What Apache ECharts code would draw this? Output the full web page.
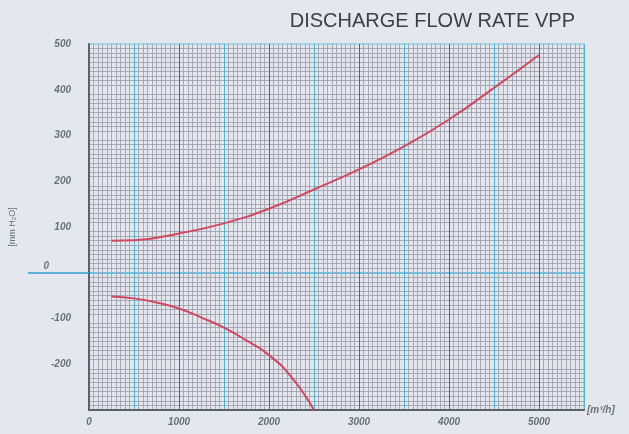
<!DOCTYPE html>
<html>
<head>
<meta charset="utf-8">
<script src="https://cdn.jsdelivr.net/npm/echarts@6/dist/echarts.min.js"></script>
<style>
  html, body { margin: 0; padding: 0; background: #e4e8ee; }
  #chart { width: 629px; height: 434px; }
</style>
</head>
<body>
<div id="chart"></div>
<script>
// flow rate [m3/h] and pressure of the two curves
var upperFlow = [250, 500, 1000, 1500, 2000, 2500, 3000, 3500, 4000, 4500, 5000];
var upperPressure = [70, 71, 86, 108, 140, 182, 226, 276, 335, 404, 476];
var lowerFlow = [250, 500, 750, 1000, 1250, 1500, 1750, 2000, 2250, 2500];
var lowerPressure = [-52, -56, -65, -78, -98, -120, -148, -180, -228, -300];
var xTicks = [0, 1000, 2000, 3000, 4000, 5000];

function pairs(xs, ys) {
  return xs.map(function (x, i) { return [x, ys[i]]; });
}

var chart = echarts.init(document.getElementById('chart'));
var labelFont = {
  color: '#6b6f77',
  fontSize: 10,
  fontStyle: 'italic',
  fontWeight: 'bold',
  fontFamily: 'Liberation Sans'
};

chart.setOption({
  backgroundColor: '#e4e8ee',
  animation: false,
  title: {
    text: 'DISCHARGE FLOW RATE VPP',
    right: 49,
    top: 6,
    textStyle: { color: '#3c4045', fontSize: 20, fontWeight: 'normal', fontFamily: 'Liberation Sans' }
  },
  grid: {
    left: 83, right: 45, top: 44, bottom: 24,
    show: true,
    backgroundColor: '#e4e6ee',
    borderColor: '#9fd4e3',
    borderWidth: 2
  },
  xAxis: {
    type: 'value',
    min: 0, max: 5500, interval: 500,
    name: '[m³/h]',
    nameLocation: 'end',
    nameGap: 3,
    nameTextStyle: Object.assign({ padding: [24, 0, 0, 0] }, labelFont),
    axisLine: { show: true, onZero: false, lineStyle: { color: '#5c6168', width: 2 } },
    axisTick: { show: false },
    axisLabel: Object.assign({
      margin: 7,
      formatter: function (v) { return xTicks.indexOf(v) >= 0 ? String(v) : ''; }
    }, labelFont),
    splitLine: { show: true, lineStyle: { color: ['#3f6d85', '#4ab6d6'], width: 1 } },
    minorTick: { show: false, splitNumber: 10 },
    minorSplitLine: { show: true, lineStyle: { color: '#a6a8b6', width: 1 } }
  },
  yAxis: {
    type: 'value',
    min: -300, max: 500, interval: 100,
    name: '[mm H₂O]',
    nameLocation: 'middle',
    nameGap: 72,
    nameTextStyle: { color: '#6b6f77', fontSize: 9, fontFamily: 'Liberation Sans' },
    axisLine: { show: true, onZero: false, lineStyle: { color: '#5c6168', width: 2 } },
    axisTick: {
      show: true,
      customValues: [0],
      length: 61,
      lineStyle: { color: '#2e9fd0', width: 1.5 }
    },
    axisLabel: Object.assign({
      margin: 18,
      formatter: function (v) {
        if (v === -300) return '';
        if (v === 0) return '{z|0}';
        return String(v);
      },
      rich: { z: Object.assign({ padding: [0, 22, 14, 0] }, labelFont) }
    }, labelFont),
    splitLine: { show: true, lineStyle: { color: '#4cb6da', width: 1.5 } },
    minorTick: { show: false, splitNumber: 10 },
    minorSplitLine: { show: true, lineStyle: { color: '#a6a8b6', width: 1 } }
  },
  series: [
    {
      type: 'line',
      data: pairs(upperFlow, upperPressure),
      smooth: true,
      symbol: 'none',
      lineStyle: { color: '#d2485f', width: 2 }
    },
    {
      type: 'line',
      data: pairs(lowerFlow, lowerPressure),
      smooth: true,
      symbol: 'none',
      lineStyle: { color: '#d2485f', width: 2 }
    }
  ]
});
</script>
</body>
</html>
